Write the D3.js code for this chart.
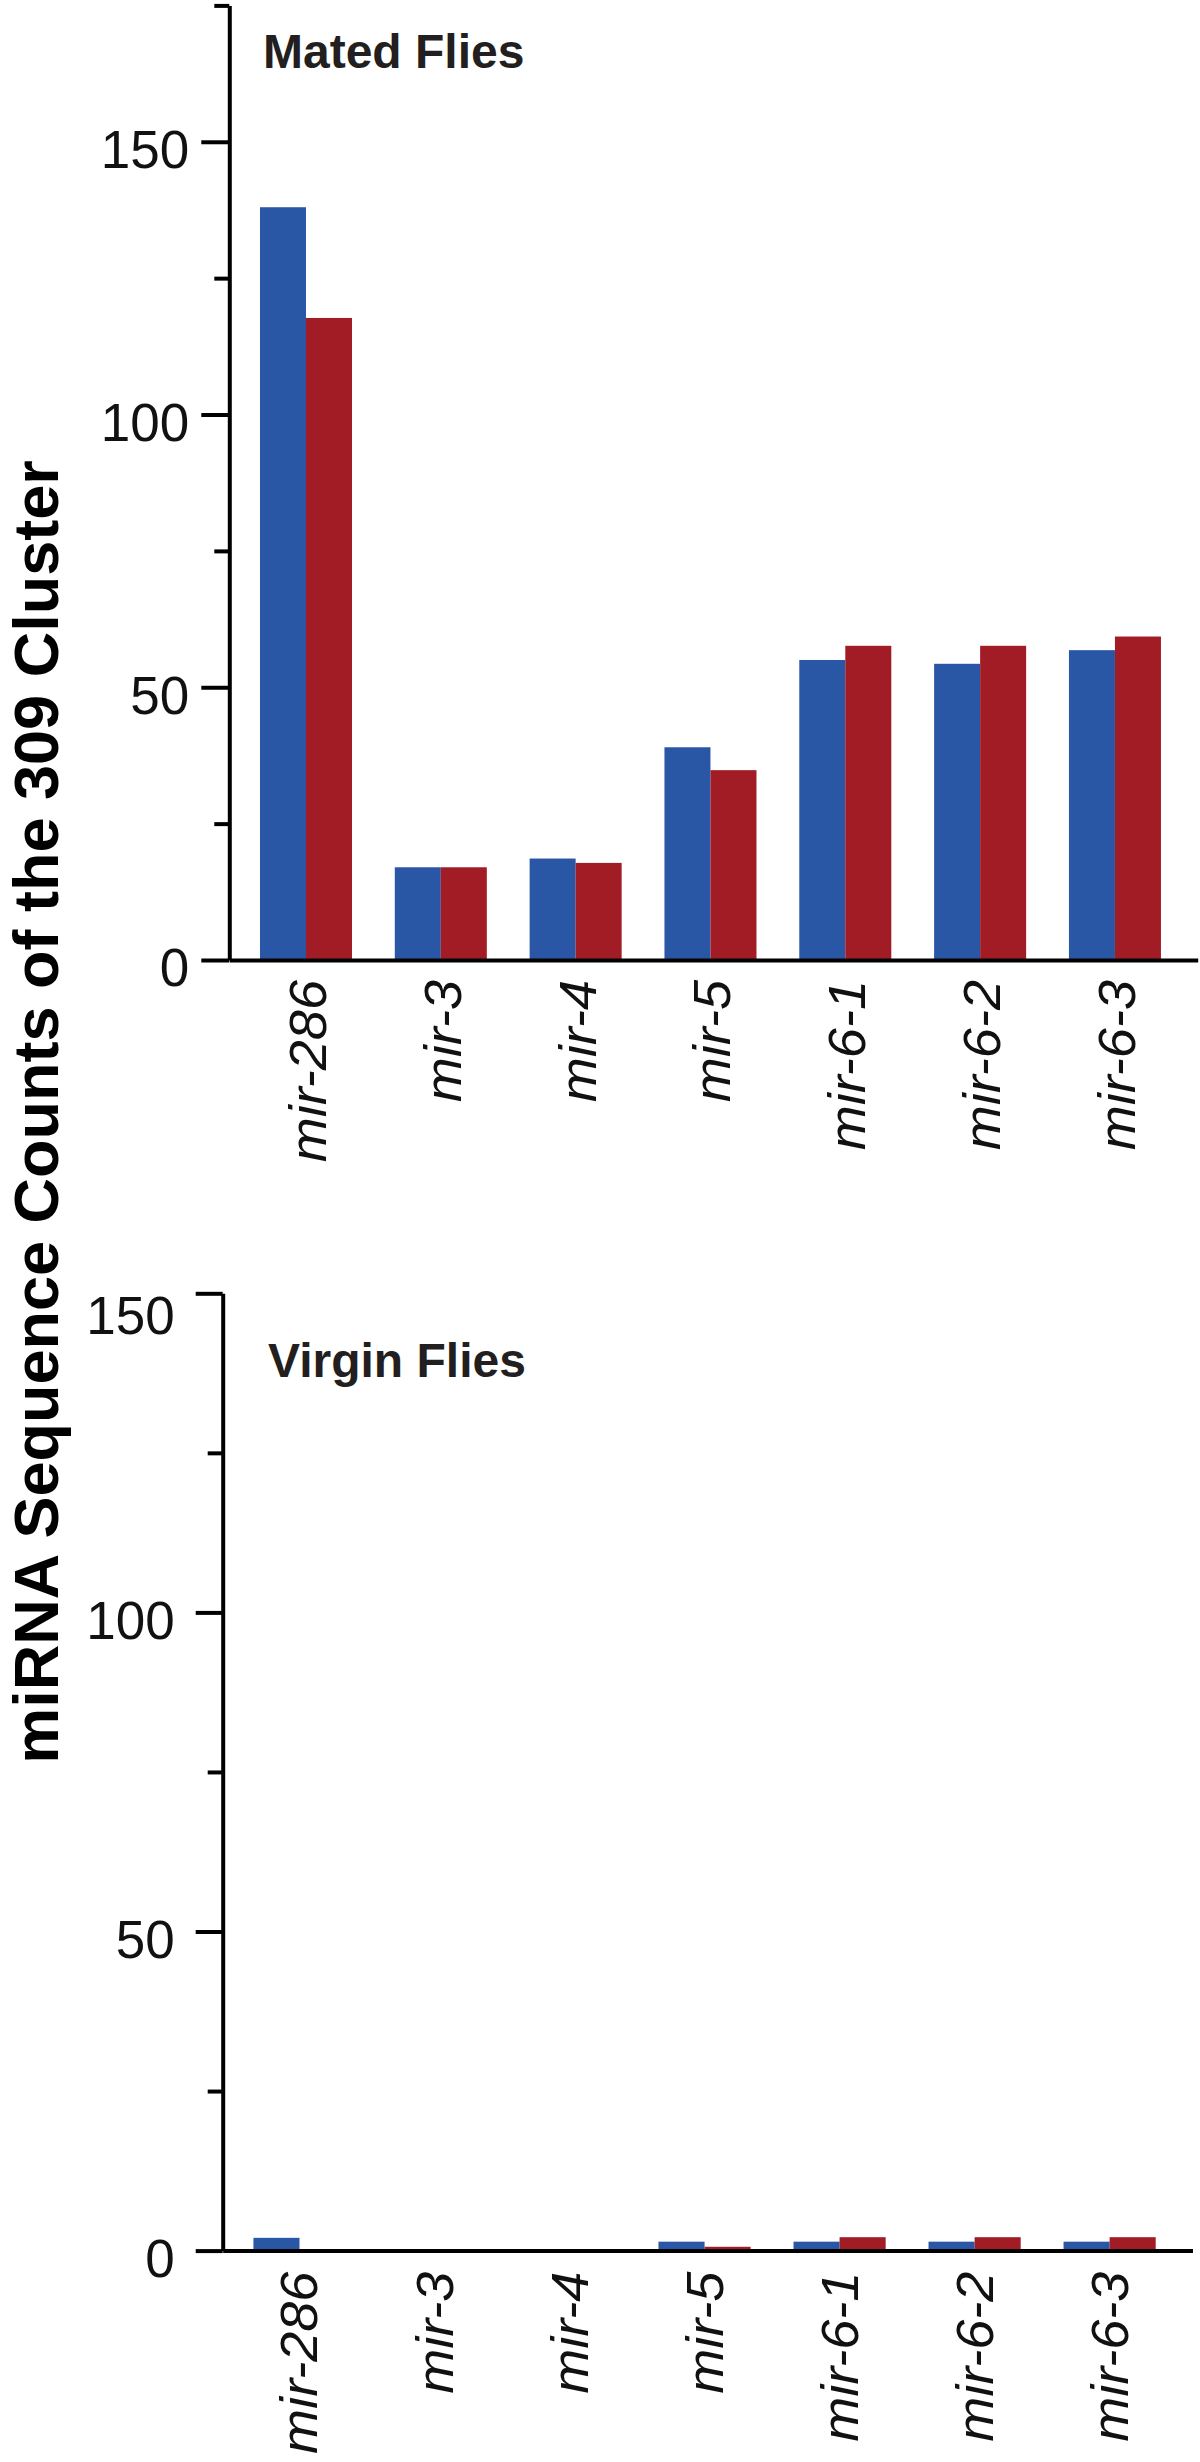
<!DOCTYPE html>
<html>
<head>
<meta charset="utf-8">
<script src="https://cdn.jsdelivr.net/npm/d3@7"></script>
<style>
  html, body { margin: 0; padding: 0; background: #ffffff; }
  svg { display: block; }
</style>
</head>
<body>
<svg id="chart" width="1200" height="2462"></svg>
<script>
// ---------------- data ----------------
const categories = ["mir-286", "mir-3", "mir-4", "mir-5", "mir-6-1", "mir-6-2", "mir-6-3"];
const seriesKeys = ["series1", "series2"];
const seriesColors = ["#2A56A6", "#A21C26"];

const matedSeries1  = [138, 17, 18.6, 39, 55, 54.3, 56.8];
const matedSeries2  = [117.7, 17, 17.8, 34.8, 57.6, 57.6, 59.3];
const virginSeries1 = [2, 0, 0, 1.4, 1.4, 1.4, 1.4];
const virginSeries2 = [0, 0, 0, 0.6, 2.1, 2.1, 2.1];

const yMajorTicks = [0, 50, 100, 150];
const yMinorTicksMated = [25, 75, 125, 175];
const yMinorTicksVirgin = [25, 75, 125];

const panelTitles = ["Mated Flies", "Virgin Flies"];
const yAxisTitle = "miRNA Sequence Counts of the 309 Cluster";

// ---------------- drawing ----------------
const FONT = "'Liberation Sans', Arial, Helvetica, sans-serif";
const svg = d3.select("#chart");
svg.append("rect").attr("width", 1200).attr("height", 2462).attr("fill", "#fff");

const color = d3.scaleOrdinal().domain(seriesKeys).range(seriesColors);

function drawPanel(p) {
  const g = svg.append("g");

  const x = d3.scaleBand().domain(categories)
    .range([p.axisX, p.axisEnd])
    .paddingInner(0.3175).paddingOuter(0.25).align(0.455);
  const xs = d3.scaleBand().domain(seriesKeys).range([0, x.bandwidth()]);
  const y = d3.scaleLinear().domain([0, p.yMax]).range([p.y0, p.yTop]);

  const rows = categories.map((c, i) => ({
    cat: c,
    values: [{ k: seriesKeys[0], v: p.s1[i] }, { k: seriesKeys[1], v: p.s2[i] }]
  }));

  // bars
  g.append("g").selectAll("g").data(rows).join("g")
    .attr("transform", d => `translate(${x(d.cat)},0)`)
    .selectAll("rect").data(d => d.values).join("rect")
    .attr("x", d => xs(d.k))
    .attr("width", xs.bandwidth())
    .attr("y", d => y(d.v))
    .attr("height", d => y(0) - y(d.v))
    .attr("fill", d => color(d.k));

  // x axis
  const xAxis = g.append("g")
    .attr("transform", `translate(0,${y(0)})`)
    .call(d3.axisBottom(x).tickSize(0).tickSizeOuter(0));
  xAxis.select(".domain").attr("stroke", "#000").attr("stroke-width", 4);
  xAxis.selectAll(".tick text")
    .attr("x", 0).attr("y", 0).attr("dy", 0)
    .attr("text-anchor", "end")
    .attr("transform", `translate(${p.labelDx},${p.labelDy}) rotate(-90) scale(1.04,1)`)
    .attr("font-family", FONT)
    .attr("font-style", "italic")
    .attr("font-size", 52)
    .attr("fill", "#111");

  // y axis minor ticks
  const yMinor = g.append("g")
    .attr("transform", `translate(${p.axisX},0)`)
    .call(d3.axisLeft(y).tickValues(p.minor).tickSize(15).tickSizeOuter(0).tickFormat(""));
  yMinor.select(".domain").remove();
  yMinor.selectAll(".tick line").attr("stroke", "#000").attr("stroke-width", 4);

  // y axis major ticks + line
  const yAxis = g.append("g")
    .attr("transform", `translate(${p.axisX},0)`)
    .call(d3.axisLeft(y).tickValues(yMajorTicks).tickSize(p.majorLen)
      .tickSizeOuter(0).tickPadding(p.tickPad).tickFormat(d3.format("d")));
  yAxis.select(".domain").attr("stroke", "#000").attr("stroke-width", 4);
  yAxis.selectAll(".tick line").attr("stroke", "#000").attr("stroke-width", 4);
  yAxis.selectAll(".tick text")
    .attr("font-family", FONT)
    .attr("font-size", 53)
    .attr("fill", "#111")
    .attr("dy", d => (p.topShift && d === 150) ? "0.76em" : "0.49em");

  // panel title
  g.append("text")
    .attr("x", p.titleX).attr("y", p.titleY)
    .attr("font-family", FONT)
    .attr("font-weight", "bold")
    .attr("font-size", 48)
    .attr("fill", "#231f20")
    .text(p.title);
}

drawPanel({
  title: panelTitles[0], s1: matedSeries1, s2: matedSeries2,
  yMax: 175, y0: 960, yTop: 5.4, minor: yMinorTicksMated,
  axisX: 229.3, axisEnd: 1197.7, majorLen: 28, tickPad: 12,
  labelDx: 20, labelDy: 20, topShift: false,
  titleX: 263, titleY: 68
});

drawPanel({
  title: panelTitles[1], s1: virginSeries1, s2: virginSeries2,
  yMax: 150, y0: 2250.6, yTop: 1293.3, minor: yMinorTicksVirgin,
  axisX: 222.7, axisEnd: 1192.5, majorLen: 27, tickPad: 21,
  labelDx: 18, labelDy: 21, topShift: true,
  titleX: 268, titleY: 1377
});

// shared y-axis title
svg.append("text")
  .attr("transform", "translate(58,1112) rotate(-90)")
  .attr("text-anchor", "middle")
  .attr("font-family", FONT)
  .attr("font-weight", "bold")
  .attr("font-size", 63)
  .attr("fill", "#000")
  .text(yAxisTitle);
</script>
</body>
</html>
